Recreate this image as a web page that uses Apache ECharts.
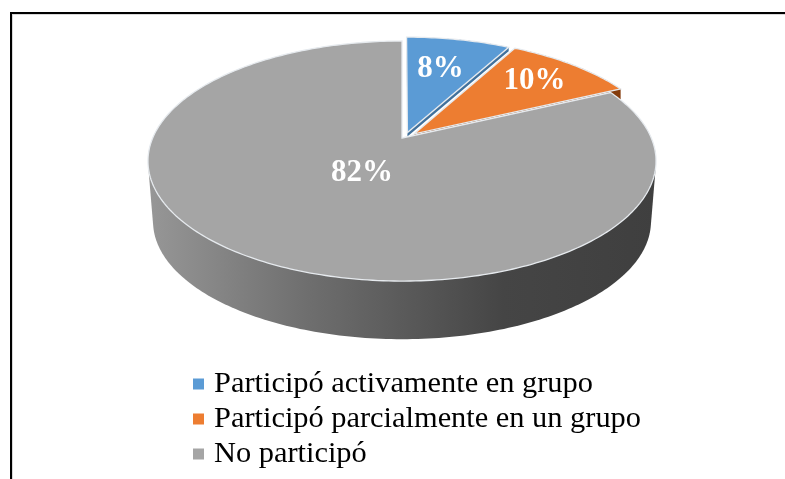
<!DOCTYPE html>
<html><head><meta charset="utf-8">
<style>html,body{margin:0;padding:0;background:#fff}#c{width:785px;height:479px}</style>
<script src="https://cdn.jsdelivr.net/npm/echarts@6/dist/echarts.min.js"></script>
</head><body><div id="c"></div>
<script>
const categories = ['Participó activamente en grupo', 'Participó parcialmente en un grupo', 'No participó'];
const values = [8, 10, 82];
const colors = ['#5b9bd5', '#ed7d31', '#a5a5a5'];
const wallColors = ['#41719c', '#843c0c', null];
const explodeX = [0.022, 0.05, 0];
const explodeY = [0.048, 0.036, 0];
const sideDepth = [4, 10, 61];
const labelRadius = [0.65, 0.75, 0.3];
const labelNudgeX = [-2, -2, 2];
const labelNudgeY = [0, 0, 4];

const SERIF = '"Liberation Serif","Times New Roman",serif';
const CX = 402, CY = 138, A = 249.3, B = 115.6, K = 0.192;
const BOTTOM_SCALE = 0.98;
const RAD = Math.PI / 180;

function project(x, y, dy, s) {
  const d = 1 + K * y;
  return [CX + s * A * x / d, CY + dy - s * B * y / d];
}
function rimPts(start, end, ox, oy, dy, s) {
  const pts = [];
  const n = Math.max(4, Math.ceil((end - start) / RAD));
  for (let i = 0; i <= n; i++) {
    const t = start + (end - start) * i / n;
    pts.push(project(ox + Math.sin(t), oy + Math.cos(t), dy, s));
  }
  return pts;
}
function hull(points) {
  const p = points.slice().sort((a, b) => a[0] - b[0] || a[1] - b[1]);
  const cross = (o, a, b) => (a[0] - o[0]) * (b[1] - o[1]) - (a[1] - o[1]) * (b[0] - o[0]);
  const lo = [], up = [];
  for (const q of p) { while (lo.length > 1 && cross(lo[lo.length - 2], lo[lo.length - 1], q) <= 0) lo.pop(); lo.push(q); }
  for (const q of p.slice().reverse()) { while (up.length > 1 && cross(up[up.length - 2], up[up.length - 1], q) <= 0) up.pop(); up.push(q); }
  return lo.slice(0, -1).concat(up.slice(0, -1));
}
const total = values.reduce((a, b) => a + b, 0);

function makeRender(idx) {
  return function (params, api) {
    const v = api.value(0);
    let before = 0;
    for (let i = 0; i < idx; i++) before += values[i];
    const start = before / total * Math.PI * 2;
    const end = (before + v) / total * Math.PI * 2;
    const ox = explodeX[idx], oy = explodeY[idx];
    const apex = project(ox, oy, 0, 1);
    const top = [apex].concat(rimPts(start, end, ox, oy, 0, 1));
    const depth = sideDepth[idx];
    const isMain = idx === 2;
    let wallPts;
    if (isMain) {
      wallPts = rimPts(95 * RAD, 265 * RAD, 0, 0, 0, 1).concat(rimPts(95 * RAD, 265 * RAD, 0, 0, depth, BOTTOM_SCALE));
    } else {
      wallPts = top.concat([project(ox, oy, depth, 1)], rimPts(start, end, ox, oy, depth, 1));
    }
    const wallFill = isMain ? {
      type: 'linear', global: true, x: 148, y: 0, x2: 656, y2: 0,
      colorStops: [{offset: 0, color: '#979797'}, {offset: 0.3, color: '#707070'}, {offset: 0.7, color: '#454545'}, {offset: 1, color: '#3f3f3f'}]
    } : wallColors[idx];
    const mid = (start + end) / 2;
    const r = labelRadius[idx];
    const lp = project(ox + r * Math.sin(mid), oy + r * Math.cos(mid), 0, 1);
    return {
      type: 'group',
      children: [
        {type: 'polygon', z2: isMain ? 3 : 1, shape: {points: hull(wallPts)}, style: {fill: wallFill}, silent: true},
        {type: 'polygon', z2: isMain ? 4 : 5, shape: {points: top}, style: {fill: colors[idx], stroke: '#e6eaee', lineWidth: 1.3, lineJoin: 'miter'}},
        {type: 'text', z2: 10, style: {x: lp[0] + labelNudgeX[idx], y: lp[1] + labelNudgeY[idx], text: v + '%', fill: '#fff', font: 'bold 31px ' + SERIF, align: 'center', verticalAlign: 'middle'}}
      ]
    };
  };
}

const chart = echarts.init(document.getElementById('c'), null, {renderer: 'canvas'});
chart.setOption({
  animation: false,
  backgroundColor: '#fff',
  color: colors,
  graphic: [
    {type: 'rect', z: 0, shape: {x: 12, y: 14, width: 800, height: 500}, style: {fill: 'none', stroke: '#d8d8d8', lineWidth: 2}},
    {type: 'rect', z: 0, shape: {x: 11, y: 13, width: 800, height: 500}, style: {fill: 'none', stroke: '#000', lineWidth: 2}}
  ],
  legend: {
    orient: 'vertical', left: 193, top: 369, padding: 0,
    data: categories, icon: 'rect', itemWidth: 11, itemHeight: 11, itemGap: 5, selectedMode: false,
    textStyle: {fontFamily: SERIF, fontSize: 30.4, color: '#000', padding: [0, 0, 0, 5], lineHeight: 28}
  },
  series: categories.map((name, i) => ({
    type: 'custom', name, coordinateSystem: 'none', silent: true,
    itemStyle: {color: colors[i]},
    renderItem: makeRender(i),
    data: [[values[i]]]
  }))
});
</script></body></html>
